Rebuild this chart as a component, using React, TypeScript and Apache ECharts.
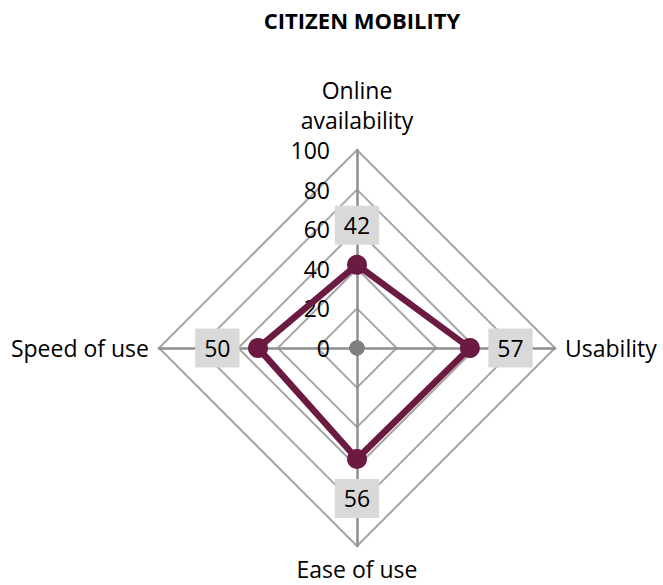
import React, { useEffect, useRef } from "react";
import * as echarts from "echarts";

const titleText = "CITIZEN MOBILITY";
// ECharts radar runs counter-clockwise from the top
const categories = ["Online\navailability", "Speed of use", "Ease of use", "Usability"];
const values = [42, 50, 56, 57];
const centerValues = [0, 0, 0, 0];
const maxValue = 100;
const labelPositions = ["top", "left", "bottom", "right"];

export default function App() {
  const ref = useRef<HTMLDivElement>(null);
  useEffect(() => {
    if (!ref.current) return;
    const chart = echarts.init(ref.current, null, { renderer: "svg" });
    const font = "'Open Sans', sans-serif";
    const gridColor = "#a6a6a6";
    const spokeColor = "#8f8f8f";
    const lineColor = "#6b1a42";
    const nameGaps = [15, 10, 8, 10];

    const labelItems = values.map((v, i) => {
      const pos = labelPositions[i];
      return {
        value: values.map((_, j) => (j === i ? v : "-")),
        label: { show: true, position: pos, distance: pos === "top" || pos === "bottom" ? 27 : 18 },
      };
    });

    chart.setOption({
      animation: false,
      backgroundColor: "#ffffff",
      title: {
        text: titleText,
        left: 362,
        textAlign: "center",
        top: 7,
        padding: 0,
        textStyle: { fontFamily: font, fontWeight: "bold", fontSize: 22, lineHeight: 26, color: "#000" },
      },
      radar: {
        center: [357, 348],
        radius: 198,
        startAngle: 90,
        shape: "polygon",
        splitNumber: 5,
        nameGap: 10,
        axisName: { color: "#000", fontFamily: font, fontSize: 23, lineHeight: 30 },
        indicator: categories.map((name, i) => ({
          name,
          max: maxValue,
          min: 0,
          nameGap: nameGaps[i],
          axisLabel: { show: i === 0 },
        })),
        splitArea: { show: false },
        splitLine: { lineStyle: { color: gridColor, width: 2 } },
        axisLine: { lineStyle: { color: spokeColor, width: 2.5 } },
        axisTick: { show: false },
        axisLabel: {
          show: false,
          color: "#000",
          fontFamily: font,
          fontSize: 23,
          lineHeight: 20,
          margin: 27,
          showMinLabel: true,
          showMaxLabel: true,
        },
      },
      series: [
        {
          type: "radar",
          silent: true,
          data: [
            {
              value: values,
              symbol: "circle",
              symbolSize: 20,
              lineStyle: { color: lineColor, width: 6.5 },
              itemStyle: { color: lineColor },
            },
          ],
        },
        {
          type: "radar",
          silent: true,
          data: [
            {
              value: centerValues,
              symbol: "circle",
              symbolSize: 15,
              lineStyle: { width: 0, opacity: 0 },
              itemStyle: { color: "#808080" },
            },
          ],
        },
        {
          type: "radar",
          silent: true,
          symbol: "circle",
          symbolSize: 1,
          lineStyle: { width: 0, opacity: 0 },
          itemStyle: { color: "rgba(0,0,0,0)" },
          label: {
            show: true,
            formatter: (p: any) => {
              const v = Array.isArray(p.value) ? p.value[p.dimensionIndex] : p.value;
              const num = Number(v);
              return v === "-" || v == null || isNaN(num) ? "" : "{b|" + num + "}";
            },
            rich: {
              b: {
                color: "#000",
                fontFamily: font,
                fontSize: 23,
                lineHeight: 24,
                backgroundColor: "#d9d9d9",
                padding: [8, 9],
              },
            },
          },
          data: labelItems,
        },
      ],
    });
    return () => chart.dispose();
  }, []);
  return (
    <div
      ref={ref}
      style={{ position: "fixed", left: 0, top: 0, width: 663, height: 585 }}
    />
  );
}
